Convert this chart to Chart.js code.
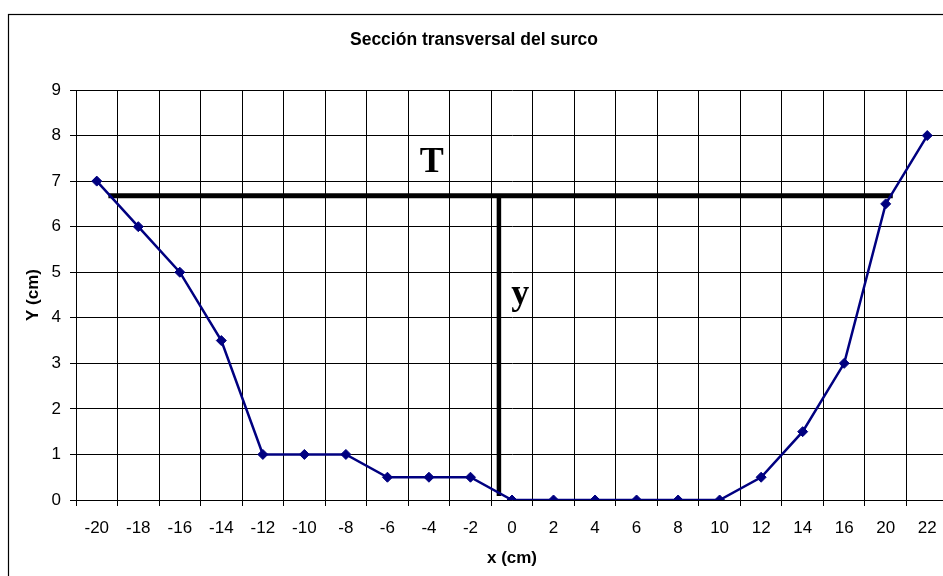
<!DOCTYPE html>
<html>
<head>
<meta charset="utf-8">
<script src="https://cdn.jsdelivr.net/npm/chart.js@4.4.1/dist/chart.umd.min.js"></script>
<style>
  html, body { margin: 0; padding: 0; overflow: hidden; background: #fff; }
  canvas { display: block; }
</style>
</head>
<body>
<canvas id="surco" width="960" height="576"></canvas>
<script>
const xLabels = ['-20', '-18', '-16', '-14', '-12', '-10', '-8', '-6', '-4', '-2', '0',
                 '2', '4', '6', '8', '10', '12', '14', '16', '20', '22'];
const yValues = [7, 6, 5, 3.5, 1, 1, 1, 0.5, 0.5, 0.5, 0, 0, 0, 0, 0, 0, 0.5, 1.5, 3, 6.5, 8];

// guide lines for top width (T) and depth (y); x is a category index, y in cm
const topWidthX = [0.28, 19.17];
const topWidthY = 6.68;
const depthX = 9.685;
const depthY = [6.68, 0.09];
const guideText = ['T', 'y'];
const guideTextX = [8.07, 10.2];
const guideTextY = [7.19, 4.31];

const FONT = "Arial, 'Liberation Sans', sans-serif";
Chart.defaults.color = '#000';
Chart.defaults.font.family = FONT;

const frame = {
  id: 'frame',
  beforeDraw(chart) {
    const ctx = chart.ctx;
    ctx.save();
    ctx.fillStyle = '#fff';
    ctx.fillRect(0, 0, chart.width, chart.height);
    ctx.strokeStyle = '#000';
    ctx.lineWidth = 1.2;
    ctx.strokeRect(8.5, 14.5, 949, 600);
    ctx.restore();
  }
};

const guides = {
  id: 'guides',
  beforeDatasetsDraw(chart) {
    const { ctx, scales: { x, y } } = chart;
    ctx.save();
    ctx.strokeStyle = '#000';
    ctx.lineWidth = 5;
    ctx.lineCap = 'butt';
    ctx.beginPath();
    ctx.moveTo(x.getPixelForValue(topWidthX[0]), y.getPixelForValue(topWidthY));
    ctx.lineTo(x.getPixelForValue(topWidthX[1]), y.getPixelForValue(topWidthY));
    ctx.stroke();
    ctx.lineWidth = 4.5;
    ctx.beginPath();
    ctx.moveTo(x.getPixelForValue(depthX), y.getPixelForValue(depthY[0]));
    ctx.lineTo(x.getPixelForValue(depthX), y.getPixelForValue(depthY[1]));
    ctx.stroke();
    ctx.fillStyle = '#000';
    ctx.font = "bold 36px 'Liberation Serif', 'Times New Roman', serif";
    ctx.textAlign = 'center';
    ctx.textBaseline = 'alphabetic';
    guideText.forEach((t, i) => {
      ctx.fillText(t, x.getPixelForValue(guideTextX[i]), y.getPixelForValue(guideTextY[i]));
    });
    ctx.restore();
  }
};

new Chart(document.getElementById('surco'), {
  type: 'line',
  data: {
    labels: xLabels,
    datasets: [{
      data: yValues,
      borderColor: '#000080',
      backgroundColor: '#000080',
      borderWidth: 2.5,
      tension: 0,
      pointStyle: 'rectRot',
      pointRadius: 5,
      pointBorderWidth: 1,
      pointHoverRadius: 5
    }]
  },
  options: {
    responsive: false,
    animation: false,
    layout: { padding: { left: 0, right: 12, top: 0, bottom: 0 } },
    plugins: {
      legend: { display: false },
      tooltip: { enabled: false },
      title: {
        display: true,
        text: 'Sección transversal del surco',
        color: '#000',
        font: { size: 17.5, weight: 'bold', lineHeight: 1.2 },
        padding: { top: 29.5, bottom: 39.5 }
      }
    },
    scales: {
      x: {
        offset: true,
        grid: { offset: true, color: '#000', lineWidth: 1, tickLength: 6 },
        border: { color: '#000', width: 1 },
        ticks: { font: { size: 17 }, padding: 12, maxRotation: 0, autoSkip: false },
        title: { display: true, text: 'x (cm)', font: { size: 17, weight: 'bold', lineHeight: 1.2 }, padding: { top: 0, bottom: 7 } },
        afterFit(scale) { scale.height = 76; }
      },
      y: {
        min: 0,
        max: 9,
        grid: { color: '#000', lineWidth: 1, tickLength: 6 },
        border: { color: '#000', width: 1 },
        ticks: { stepSize: 1, font: { size: 17 }, padding: 9 },
        title: { display: true, text: 'Y (cm)', font: { size: 17, weight: 'bold', lineHeight: 1.2 }, padding: { top: 23, bottom: 0 } },
        afterFit(scale) { scale.width = 76; }
      }
    }
  },
  plugins: [frame, guides]
});
</script>
</body>
</html>
